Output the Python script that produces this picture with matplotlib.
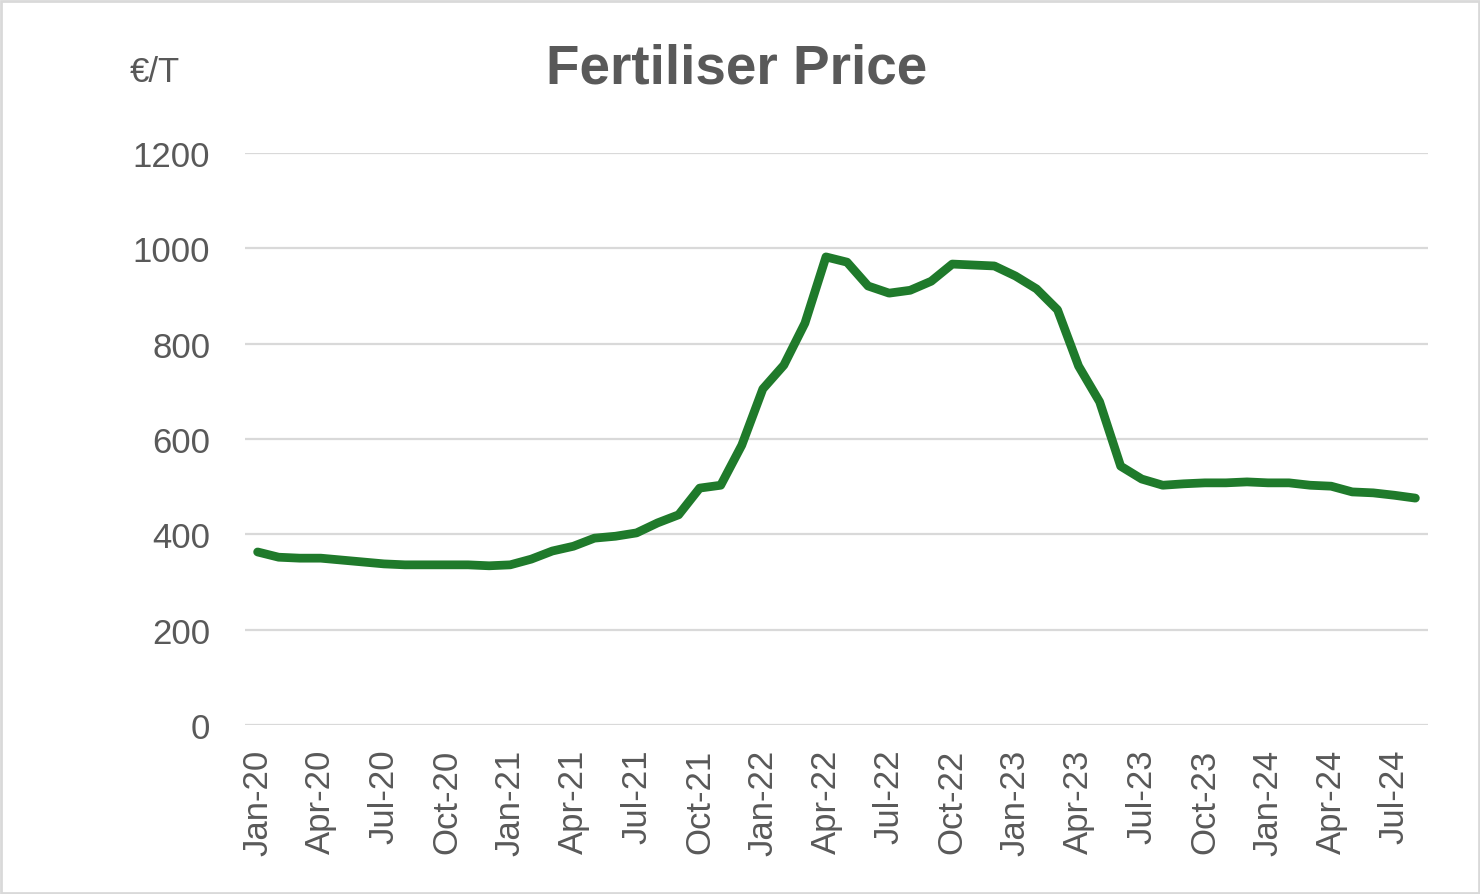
import pandas as pd
import matplotlib.pyplot as plt
from matplotlib.patches import Rectangle

# monthly fertiliser price, Jan-20 .. Aug-24 (EUR / tonne)
start_month = "2020-01"
prices = [
    363, 352, 350, 350, 346, 342, 338, 336, 336, 336, 336, 334,   # 2020
    336, 348, 365, 375, 392, 396, 403, 424, 441, 497, 503, 587,   # 2021
    705, 755, 843, 982, 971, 921, 906, 912, 931, 967, 965, 963,   # 2022
    942, 915, 871, 753, 678, 543, 516, 503, 506, 508, 508, 510,   # 2023
    508, 508, 503, 501, 489, 487, 482, 476,                       # 2024
]
y_ticks = [0, 200, 400, 600, 800, 1000, 1200]

months = pd.date_range(start_month, periods=len(prices), freq="MS")
labels = [m.strftime("%b-%y") for m in months]
x = list(range(len(prices)))

GREY = "#595959"
plt.rcParams["font.family"] = ["Liberation Sans", "DejaVu Sans"]

fig = plt.figure(figsize=(14.8, 8.95), dpi=100)
fig.patches.append(Rectangle((0.001, 0.001), 0.998, 0.997, transform=fig.transFigure,
                             fill=False, edgecolor="#d9d9d9", linewidth=2))

ax = fig.add_axes([245 / 1480, 1 - 726 / 895, (1428 - 245) / 1480, (726 - 154) / 895])
ax.plot(x, prices, color="#1F7A2B", linewidth=6.3, solid_capstyle="round",
        solid_joinstyle="round", zorder=3)

ax.set_ylim(0, 1200)
ax.set_xlim(-0.6, len(prices) - 0.4)
ax.set_yticks(y_ticks)
ax.set_xticks(x[::3])
ax.set_xticklabels(labels[::3], rotation=90)
ax.grid(axis="y", color="#d9d9d9", linewidth=1.6)
ax.set_axisbelow(True)
for s in ax.spines.values():
    s.set_visible(False)
ax.tick_params(axis="both", length=0, labelsize=25, labelcolor=GREY)
ax.tick_params(axis="y", pad=25)
ax.tick_params(axis="x", pad=17)

fig.text(737 / 1480, 1 - 70 / 895, "Fertiliser Price", ha="center", va="center",
         fontsize=39.5, fontweight="bold", color=GREY)
fig.text(155 / 1480, 1 - 72 / 895, "€/T", ha="center", va="center",
         fontsize=25, color=GREY)

fig.savefig("out.png", dpi=100)
